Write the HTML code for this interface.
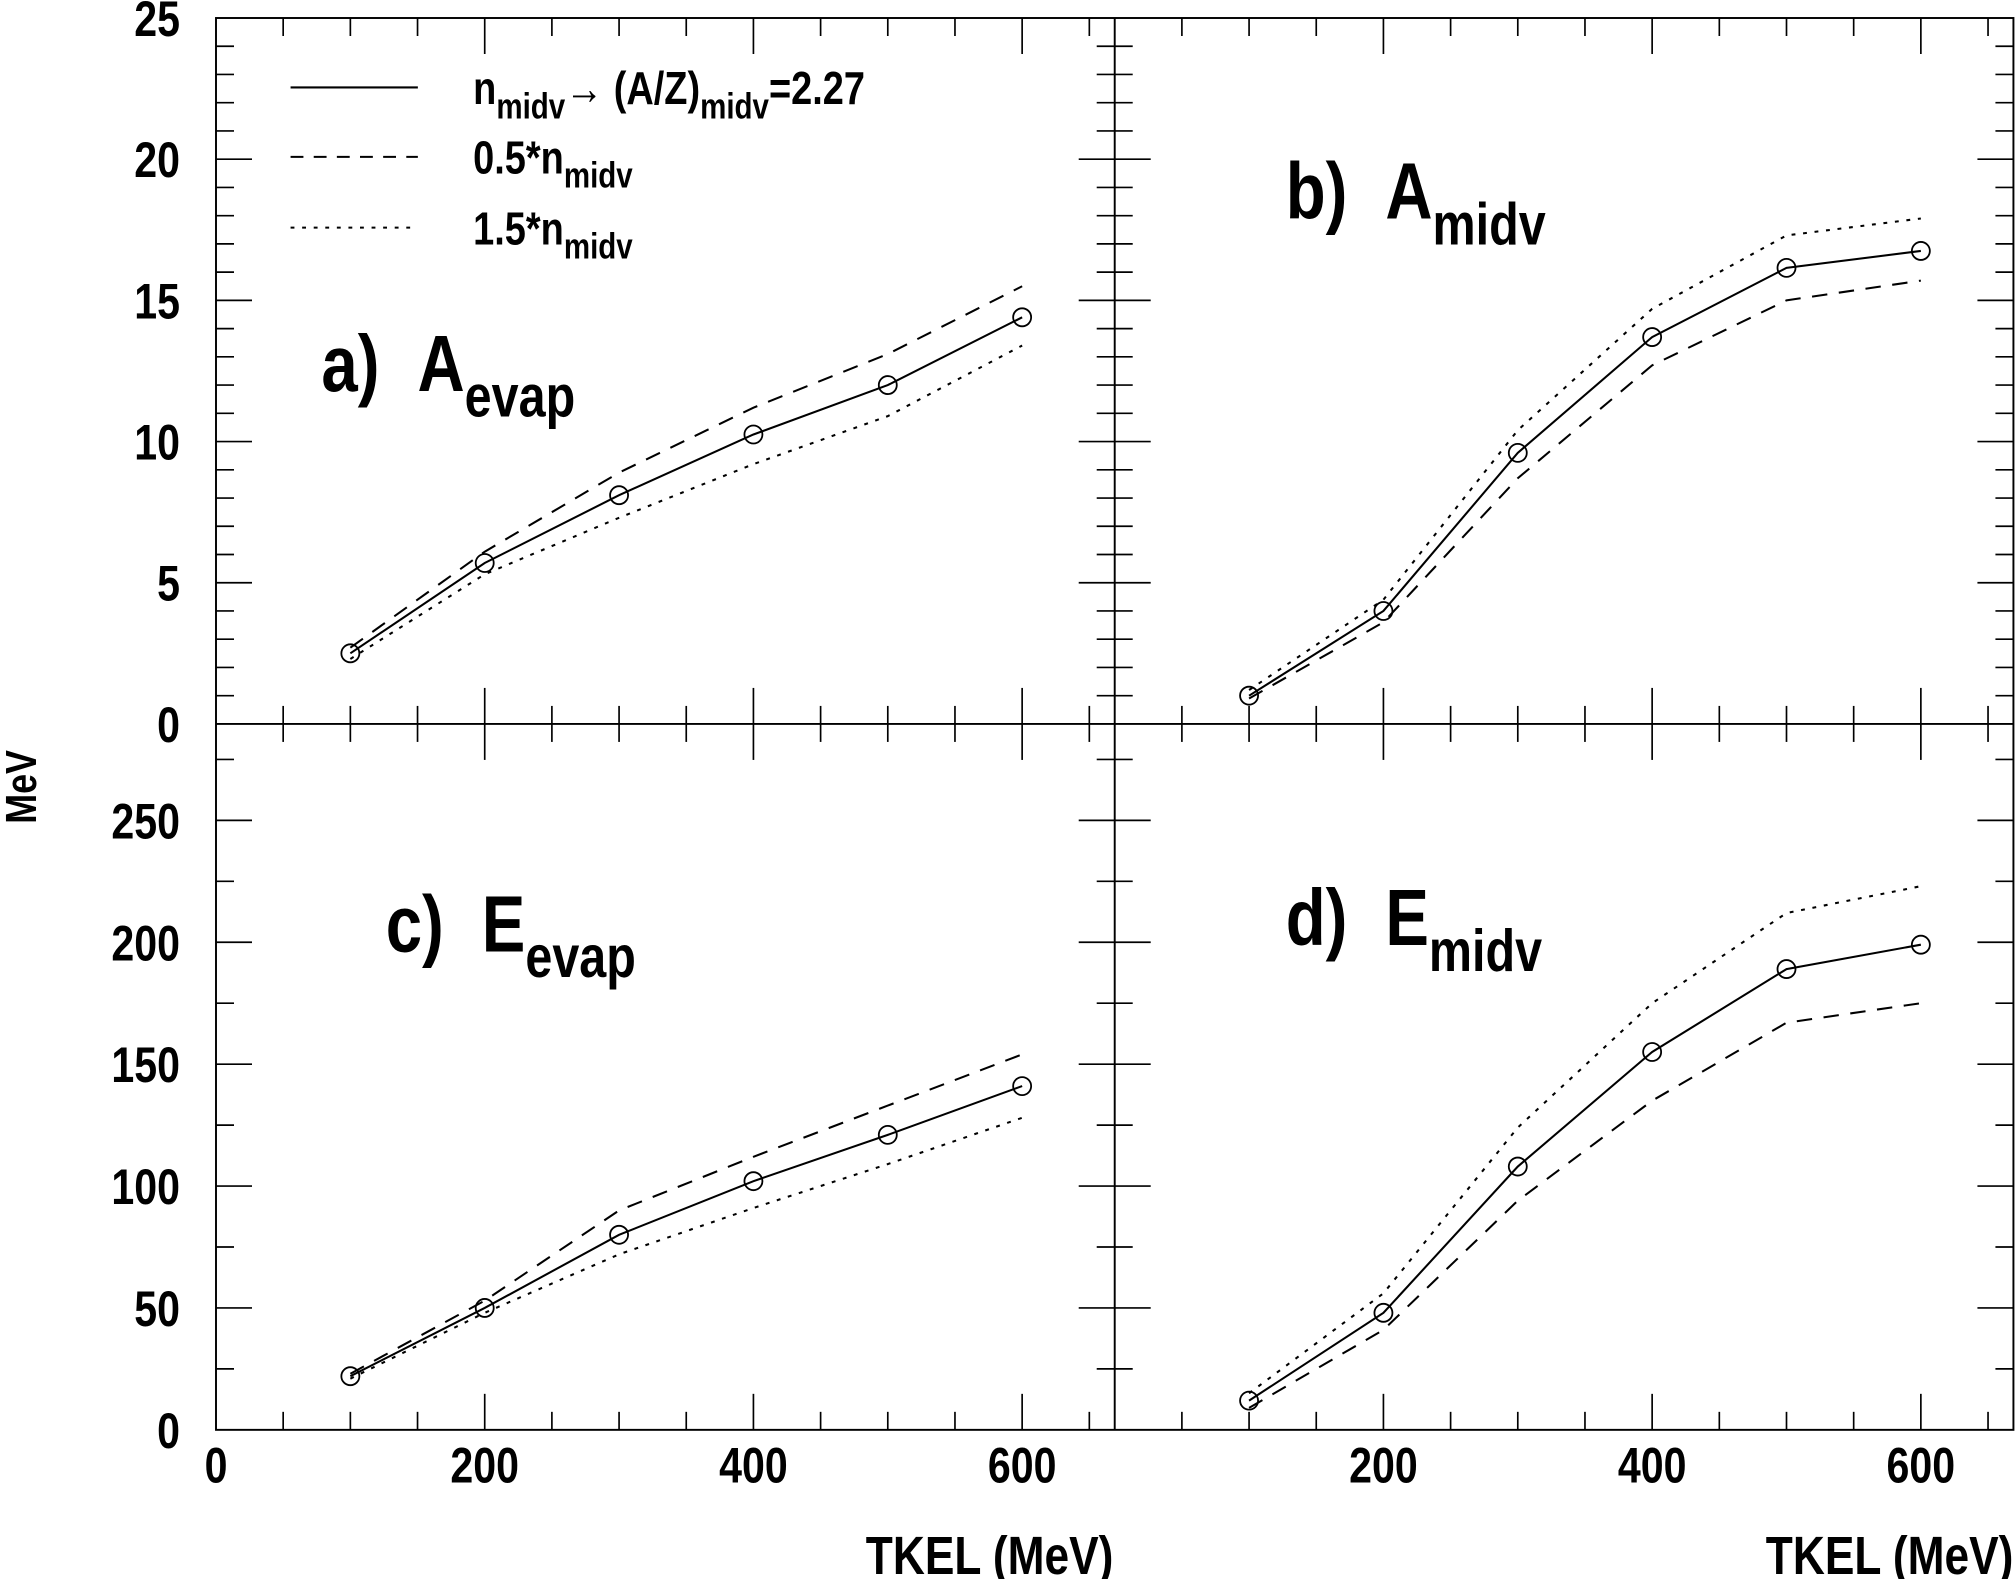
<!DOCTYPE html>
<html><head><meta charset="utf-8"><style>
html,body{margin:0;padding:0;background:#fff;}
svg{display:block;}
text{font-family:"Liberation Sans",sans-serif;font-weight:bold;fill:#000;}
</style></head><body>
<svg id="chart" width="2016" height="1579" viewBox="0 0 1568 1228" preserveAspectRatio="none" xmlns="http://www.w3.org/2000/svg">
</svg>
<script>
const xCats = [100, 200, 300, 400, 500, 600];
const aSolid = [2.5, 5.7, 8.1, 10.25, 12.0, 14.4];
const aDash = [2.7, 6.1, 8.9, 11.2, 13.1, 15.5];
const aDot = [2.3, 5.3, 7.3, 9.2, 10.9, 13.4];
const bSolid = [1.0, 4.0, 9.6, 13.7, 16.15, 16.75];
const bDash = [0.9, 3.6, 8.7, 12.7, 15.0, 15.7];
const bDot = [1.2, 4.4, 10.4, 14.7, 17.3, 17.9];
const cSolid = [22, 50, 80, 102, 121, 141];
const cDash = [23, 53, 90, 112, 133, 154];
const cDot = [21, 48, 72, 91, 109, 128];
const dSolid = [12, 48, 108, 155, 189, 199];
const dDash = [9, 41, 94, 135, 167, 175];
const dDot = [15, 56, 124, 175, 212, 223];
const xTickLabels = [0, 200, 400, 600];
const topYTickLabels = [0, 5, 10, 15, 20, 25];
const botYTickLabels = [0, 50, 100, 150, 200, 250];

const NS = "http://www.w3.org/2000/svg";
const svg = document.getElementById('chart');
const SX = 0.82;
function mk(tag, attrs, parent) {
  const e = document.createElementNS(NS, tag);
  for (const k in attrs) e.setAttribute(k, attrs[k]);
  (parent || svg).appendChild(e);
  return e;
}
function txt(x, y, size, anchor, extra) {
  const t = document.createElementNS(NS, 'text');
  t.setAttribute('x', 0); t.setAttribute('y', 0);
  t.setAttribute('font-size', size);
  t.setAttribute('text-anchor', anchor);
  t.setAttribute('transform', 'translate(' + x + ',' + y + ') ' + (extra || '') + ' scale(' + SX + ',1)');
  svg.appendChild(t);
  return t;
}
const L = 168, M = 867, R = 1566, T = 14, MY = 563, B = 1112;
const pxPer100 = 104.5;
const xMax = (M - L) / pxPer100 * 100;
function xs(ox) { return v => ox + v / 100 * pxPer100; }
const topYMax = 25, botYMax = (B - MY) / (638 - B) * -250;
function yTop(v) { return MY - v / topYMax * (MY - T); }
function yBot(v) { return B - v / botYMax * (B - MY); }

const frame = mk('rect', {x: L, y: T, width: R - L, height: B - T, fill: 'none', stroke: '#000', 'stroke-width': 1.5});


const vdiv = mk('line', {x1: M, y1: T, x2: M, y2: B, stroke: '#000', 'stroke-width': 1.5});


const hdiv = mk('line', {x1: L, y1: MY, x2: R, y2: MY, stroke: '#000', 'stroke-width': 1.5});



function panelTicks(ox, x1, y0, y1, yfun, yMax, yMinor, yMajor) {
  const g = mk('g', {stroke: '#000', 'stroke-width': 1.3});
  
  
  const X = xs(ox);
  for (let v = 50; v < xMax; v += 50) {
    const len = (v % 200 === 0) ? 28 : 14;
    const px = X(v);
    mk('line', {x1: px, y1: y1, x2: px, y2: y1 - len}, g);
    mk('line', {x1: px, y1: y0, x2: px, y2: y0 + len}, g);
  }
  for (let v = yMinor; v < yMax; v += yMinor) {
    const len = (Math.abs(v % yMajor) < 1e-6) ? 28 : 14;
    const py = yfun(v);
    mk('line', {x1: ox, y1: py, x2: ox + len, y2: py}, g);
    mk('line', {x1: x1, y1: py, x2: x1 - len, y2: py}, g);
  }
}
panelTicks(L, M, T, MY, yTop, topYMax, 1, 5);
panelTicks(M, R, T, MY, yTop, topYMax, 1, 5);
panelTicks(L, M, MY, B, yBot, botYMax, 25, 50);
panelTicks(M, R, MY, B, yBot, botYMax, 25, 50);

topYTickLabels.forEach(v => {
  const t = txt(140, yTop(v) + 14, 39, 'end');
  t.textContent = v;
  
  
});
botYTickLabels.forEach(v => {
  const t = txt(140, yBot(v) + 14, 39, 'end');
  t.textContent = v;
  
  
});
[[L, true], [M, false]].forEach(([ox, withZero]) => {
  const X = xs(ox);
  xTickLabels.forEach(v => {
    if (v === 0 && !withZero) return;
    const t = txt(X(v), 1153, 39, 'middle');
    t.textContent = v;
    
    
  });
});
const yt = txt(28, 612, 34, 'middle', 'rotate(-90)');
yt.textContent = 'MeV';


[[866, 'x-axis-title-left'], [1566, 'x-axis-title-right']].forEach(([x, n]) => {
  const t = txt(x, 1224, 42, 'end');
  t.textContent = 'TKEL (MeV)';
  
  
});

const styles = {solid: {}, dash: {'stroke-dasharray': '12 9'}, dot: {'stroke-dasharray': '3 6'}};
function series(ox, yfun, vals, style, name) {
  const X = xs(ox);
  const pts = xCats.map((c, i) => X(c) + ',' + yfun(vals[i])).join(' ');
  const attrs = Object.assign({points: pts, fill: 'none', stroke: '#000', 'stroke-width': 1.6}, styles[style]);
  const p = mk('polyline', attrs);
  
  
  if (style === 'solid') {
    xCats.forEach((c, i) => {
      const ci = mk('circle', {cx: X(c), cy: yfun(vals[i]), r: 7, fill: 'none', stroke: '#000', 'stroke-width': 1.4});
      
      
    });
  }
}
series(L, yTop, aDash, 'dash', 'a-dashed-line');
series(L, yTop, aDot, 'dot', 'a-dotted-line');
series(L, yTop, aSolid, 'solid', 'a-solid-line');
series(M, yTop, bDash, 'dash', 'b-dashed-line');
series(M, yTop, bDot, 'dot', 'b-dotted-line');
series(M, yTop, bSolid, 'solid', 'b-solid-line');
series(L, yBot, cDash, 'dash', 'c-dashed-line');
series(L, yBot, cDot, 'dot', 'c-dotted-line');
series(L, yBot, cSolid, 'solid', 'c-solid-line');
series(M, yBot, dDash, 'dash', 'd-dashed-line');
series(M, yBot, dDot, 'dot', 'd-dotted-line');
series(M, yBot, dSolid, 'solid', 'd-solid-line');

function label(x, y, pre, main, sub, name) {
  const t = txt(x, y, 62, 'start');
  t.innerHTML = pre + '<tspan dx="36">' + main + '</tspan><tspan font-size="46" dy="20">' + sub + '</tspan>';
  
  
}
label(250, 304, 'a)', 'A', 'evap', 'panel-a-label');
label(1000, 170, 'b)', 'A', 'midv', 'panel-b-label');
label(300, 740, 'c)', 'E', 'evap', 'panel-c-label');
label(1000, 735, 'd)', 'E', 'midv', 'panel-d-label');

const legendItems = [
  {y: 68, dash: '', html: 'n<tspan font-size="28" dy="11">midv</tspan><tspan dy="-11">→ (A/Z)</tspan><tspan font-size="28" dy="11">midv</tspan><tspan dy="-11">=2.27</tspan>', name: 'legend-entry-solid'},
  {y: 122, dash: '10 8', html: '0.5*n<tspan font-size="28" dy="11">midv</tspan>', name: 'legend-entry-dashed'},
  {y: 177, dash: '3 6', html: '1.5*n<tspan font-size="28" dy="11">midv</tspan>', name: 'legend-entry-dotted'}
];
legendItems.forEach(it => {
  const l = mk('line', {x1: 226, x2: 325, y1: it.y, y2: it.y, stroke: '#000', 'stroke-width': 1.6});
  if (it.dash) l.setAttribute('stroke-dasharray', it.dash);
  
  
  const t = txt(368, it.y + 13, 36, 'start');
  t.innerHTML = it.html;
  
  
});
</script>
</body></html>
